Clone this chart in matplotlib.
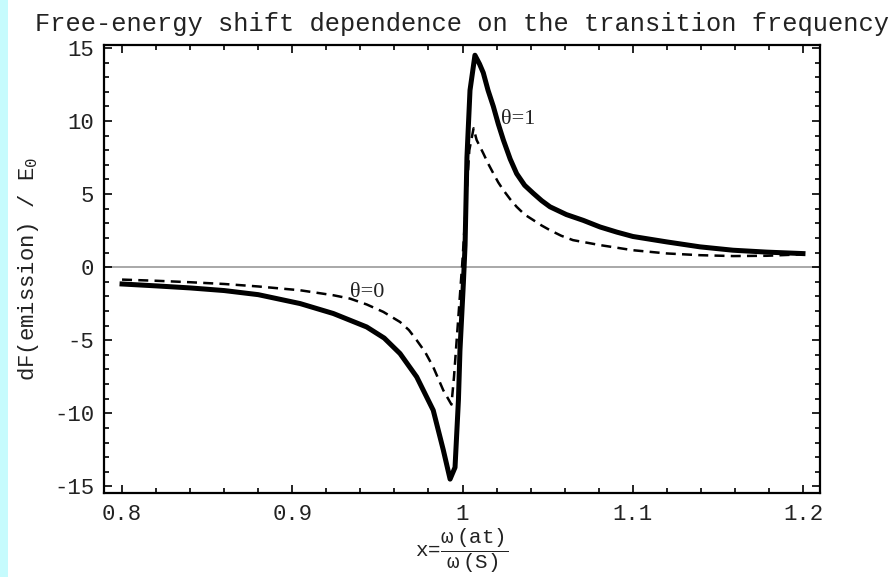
import numpy as np
import matplotlib
matplotlib.use('Agg')
import matplotlib.pyplot as plt
from matplotlib.ticker import MultipleLocator
from matplotlib.patches import Rectangle

# theta = 1 curve (thick solid)
X_THETA1 = [0.800, 0.820, 0.840, 0.860, 0.880, 0.9046, 0.9241, 0.9437, 0.9540,
            0.9633, 0.9731, 0.9828, 0.9887, 0.9927, 0.9956, 0.9976, 0.9985,
            1.0005, 1.0015, 1.0026, 1.0044, 1.0073, 1.0100, 1.0122, 1.0150,
            1.0181, 1.0210, 1.0240, 1.0280, 1.0318, 1.0365, 1.0416, 1.0465,
            1.0514, 1.0610, 1.0710, 1.0808, 1.0906, 1.1001, 1.1199, 1.1395,
            1.1589, 1.1787, 1.2000]
Y_THETA1 = [-1.15, -1.28, -1.42, -1.60, -1.88, -2.49, -3.17, -4.09, -4.85,
            -5.91, -7.51, -9.79, -12.5, -14.5, -13.7, -9.1, -5.7,
            -1.1, 1.5, 7.5, 12.1, 14.5, 13.9, 13.3, 12.1,
            11.0, 9.8, 8.7, 7.4, 6.4, 5.6, 5.05, 4.55,
            4.13, 3.6, 3.2, 2.75, 2.4, 2.1, 1.73, 1.39,
            1.16, 1.03, 0.93]

# theta = 0 curve (dashed)
X_THETA0 = [0.800, 0.820, 0.840, 0.860, 0.880, 0.9046, 0.9241, 0.9339, 0.9437,
            0.9535, 0.9633, 0.9685, 0.9731, 0.9780, 0.9828, 0.9887, 0.9935,
            0.9950, 0.9975, 1.0000, 1.0040, 1.0065, 1.0083, 1.0122, 1.0150,
            1.0181, 1.0210, 1.0240, 1.0280, 1.0318, 1.0365, 1.0416, 1.0465,
            1.0514, 1.0580, 1.0649, 1.0808, 1.1001, 1.1199, 1.1395, 1.1589,
            1.1787, 1.2000]
Y_THETA0 = [-0.85, -0.93, -1.03, -1.15, -1.32, -1.58, -1.92, -2.15, -2.55,
            -3.06, -3.75, -4.3, -5.0, -5.8, -6.83, -8.42, -9.4,
            -7.5, -3.5, 0.5, 8.0, 9.5, 8.7, 7.79, 7.1,
            6.42, 5.8, 5.27, 4.65, 4.13, 3.6, 3.22, 2.85,
            2.53, 2.15, 1.85, 1.51, 1.16, 0.94, 0.82, 0.76,
            0.78, 0.88]

TITLE = 'Free-energy shift dependence on the transition frequency'

plt.rcParams['font.family'] = ['Liberation Mono', 'DejaVu Sans']
plt.rcParams['axes.unicode_minus'] = False
plt.rcParams['mathtext.fontset'] = 'custom'
plt.rcParams['mathtext.rm'] = 'Liberation Mono'
plt.rcParams['mathtext.it'] = 'Liberation Mono'

fig = plt.figure(figsize=(8.95, 5.77), dpi=100)
fig.patches.append(Rectangle((0, 0), 8 / 895, 1, transform=fig.transFigure,
                             facecolor='#c6fbfd', edgecolor='none', zorder=0))
ax = fig.add_axes([104 / 895, 84 / 577, 716 / 895, 448 / 577])

ax.axhline(0, color='#999999', linewidth=1.2, zorder=1)
ax.plot(X_THETA0, Y_THETA0, color='black', linewidth=1.8,
        dashes=(4, 2.5), zorder=2)
ax.plot(X_THETA1, Y_THETA1, color='black', linewidth=3.6,
        solid_joinstyle='round', zorder=3)

ax.text(1.0228, 10.1, 'θ=1', fontsize=16, family='Liberation Serif',
        ha='left', va='center', color='#222222', zorder=4)
ax.text(0.9339, -1.75, 'θ=0', fontsize=16, family='Liberation Serif',
        ha='left', va='center', color='#222222', zorder=4)

ax.set_xlim(0.7894, 1.210)
ax.set_ylim(-15.45, 15.2)
ax.xaxis.set_minor_locator(MultipleLocator(0.02))
ax.yaxis.set_major_locator(MultipleLocator(5))
ax.yaxis.set_minor_locator(MultipleLocator(1))
ax.set_xticks([0.8, 0.9, 1.0, 1.1, 1.2])
ax.set_xticklabels(['0.8', '0.9', '1', '1.1', '1.2'])

ax.tick_params(which='both', direction='in', top=True, right=True,
               labelsize=16, labelcolor='#222222', width=1.2)
ax.tick_params(which='major', length=6)
ax.tick_params(which='minor', length=3.5)
ax.tick_params(axis='x', pad=8)
ax.tick_params(axis='y', pad=7)
for s in ax.spines.values():
    s.set_linewidth(1.6)

ax.set_title(TITLE, fontsize=18.3, pad=10, color='#222222')
ax.set_ylabel(r'dF(emission) / E$_0$', fontsize=16, color='#222222')
ax.yaxis.set_label_coords(-0.088, 0.5)
ax.set_xlabel(r'x=$\dfrac{\omega\;\mathrm{(at)}}{\omega\;\mathrm{(S)}}$',
              fontsize=15, color='#222222', labelpad=1)

plt.savefig('out.png', dpi=100)
